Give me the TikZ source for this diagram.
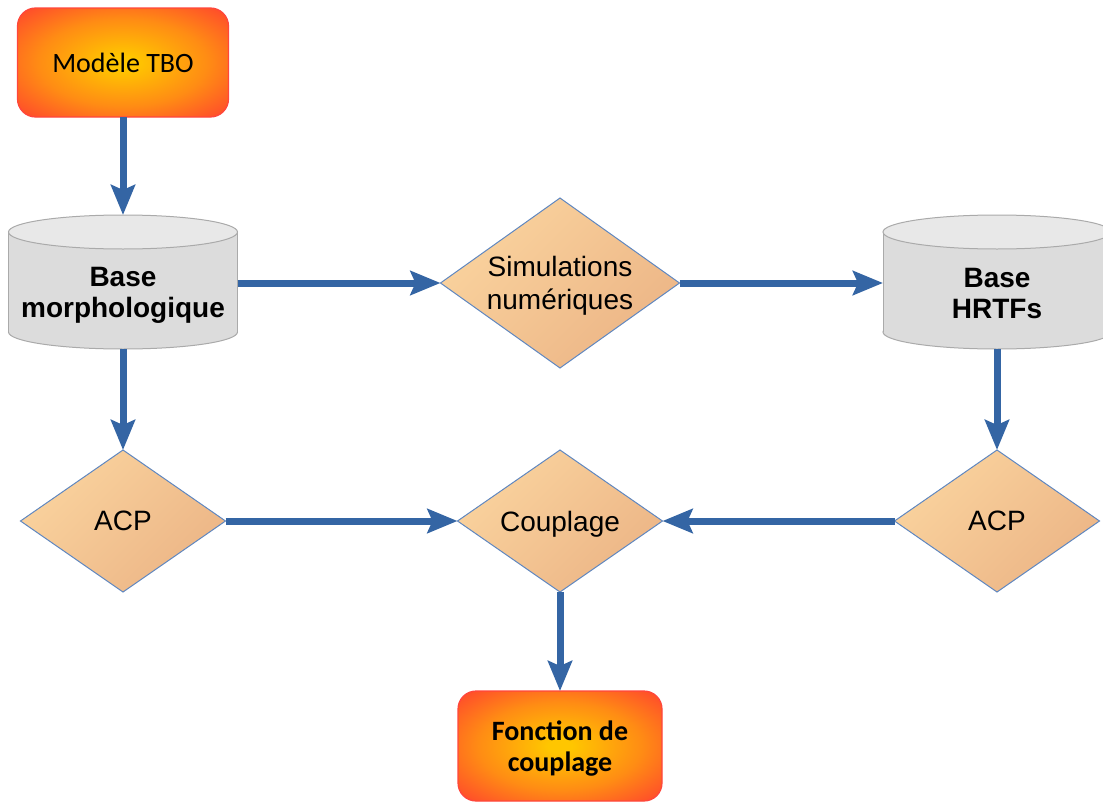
\documentclass[tikz,border=0pt]{standalone}
\usepackage{fontspec}
\setmainfont{Liberation Sans}
\newfontfamily\carlito{Carlito}
\usetikzlibrary{shapes.geometric,arrows.meta}
\definecolor{arrowblue}{RGB}{52,101,164}
\definecolor{diaborder}{RGB}{95,135,192}
\definecolor{diatop}{RGB}{250,211,158}
\definecolor{diabot}{RGB}{236,181,134}
\definecolor{warmin}{RGB}{255,198,0}
\definecolor{warmmid}{RGB}{255,140,20}
\definecolor{warmout}{RGB}{255,66,46}
\definecolor{boxred}{RGB}{255,70,60}
\definecolor{cylbody}{RGB}{220,220,220}
\definecolor{cyltop}{RGB}{232,232,232}
\definecolor{cylline}{RGB}{170,170,170}
\pgfdeclareradialshading{warm}{\pgfpoint{0bp}{0bp}}{color(0bp)=(warmin); color(3bp)=(warmin); color(20bp)=(warmmid); color(36bp)=(warmout); color(50bp)=(warmout)}
\tikzset{
  rbox/.style={rectangle, rounded corners=18pt, draw=boxred, line width=1.2pt,
    shading=warm, inner sep=0pt, outer sep=0pt, align=center, text depth=0pt,
    font=\carlito\fontsize{28}{31}\selectfont},
  dia/.style={diamond, aspect=1.43, inner sep=0pt, outer sep=0pt,
    draw=diaborder, line width=1pt, top color=diatop, bottom color=diabot,
    shading angle=45, align=center, text depth=0pt, font=\fontsize{28}{33}\selectfont},
  cylanchor/.style={rectangle, inner sep=0pt, outer sep=0pt,
    minimum width=#1, minimum height=134pt},
  cyltext/.style={align=center, inner sep=0pt, text depth=0pt, font=\bfseries\fontsize{28}{31}\selectfont},
  flow/.style={draw=arrowblue, line width=7pt,
    -{Stealth[length=30pt, width=24pt, inset=5pt]}},
}
\begin{document}
\begin{tikzpicture}[x=1pt, y=-1pt]
\useasboundingbox (0,0) rectangle (1103,803);
\clip (0,0) rectangle (1103,803);

% top box
\node[rbox, minimum width=211pt, minimum height=109pt] (tbo) at (123,62.5) {Modèle TBO};

% cylinder: Base morphologique
\filldraw[fill=cylbody, draw=cylline, line width=1pt] (123,332) ellipse [x radius=114.5pt, y radius=17pt];
\fill[cylbody] (8.5,232) rectangle (237.5,332);
\draw[cylline, line width=1pt] (8.5,232) -- (8.5,332) (237.5,232) -- (237.5,332);
\filldraw[fill=cyltop, draw=cylline, line width=1pt] (123,232) ellipse [x radius=114.5pt, y radius=17pt];
\node[cylanchor=229pt] (bm) at (123,282) {};
\node[cyltext] (bmt) at (123,292) {Base\\morphologique};

% cylinder: Base HRTFs
\filldraw[fill=cylbody, draw=cylline, line width=1pt] (997,332) ellipse [x radius=114pt, y radius=17pt];
\fill[cylbody] (883,232) rectangle (1111,332);
\draw[cylline, line width=1pt] (883,232) -- (883,332) (1111,232) -- (1111,332);
\filldraw[fill=cyltop, draw=cylline, line width=1pt] (997,232) ellipse [x radius=114pt, y radius=17pt];
\node[cylanchor=228pt] (hr) at (997,282) {};
\node[cyltext] (hrt) at (997,293) {Base\\HRTFs};

% diamonds
\node[dia, minimum width=239pt, minimum height=170pt] (sim) at (560,283) {Simulations\\numériques};
\node[dia, minimum width=205pt, minimum height=142pt] (acpl) at (123,521) {ACP};
\node[dia, minimum width=205pt, minimum height=142pt] (cp) at (560,521) {Couplage};
\node[dia, minimum width=205pt, minimum height=142pt] (acpr) at (997,521) {ACP};

% bottom box
\node[rbox, minimum width=204pt, minimum height=110pt, font=\carlito\bfseries\fontsize{28}{31}\selectfont] (fdc) at (560,746) {Fonction de\\couplage};

% connectors
\draw[flow] (tbo) -- (bm);
\draw[flow] (bm.east |- sim.west) -- (sim.west);
\draw[flow] (sim.east) -- (sim.east -| hr.west);
\draw[flow] (bm) -- (acpl);
\draw[flow] (hr) -- (acpr);
\draw[flow] (acpl) -- (cp);
\draw[flow] (acpr) -- (cp);
\draw[flow] (cp) -- (fdc);
\end{tikzpicture}
\end{document}
